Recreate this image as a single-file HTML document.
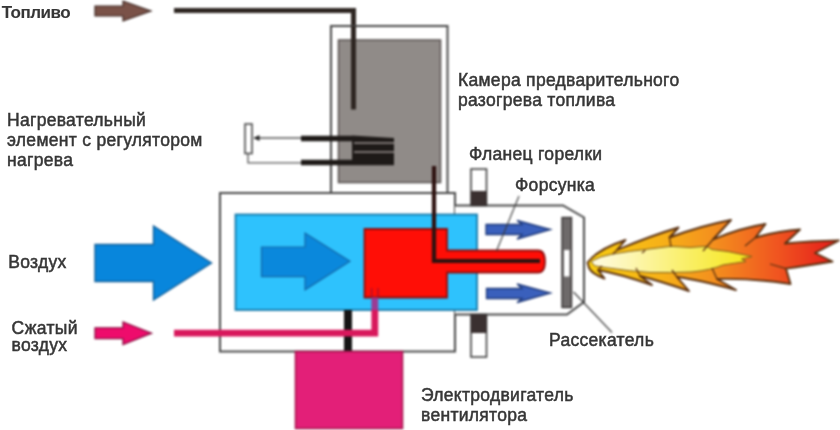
<!DOCTYPE html>
<html><head><meta charset="utf-8">
<style>
html,body{margin:0;padding:0;background:#fff;width:840px;height:430px;overflow:hidden}
svg{position:absolute;left:0;top:0;filter:blur(0.8px)}
svg.t{filter:blur(0.45px)}
text{font-family:"Liberation Sans",sans-serif;font-size:17.5px;fill:#363636;letter-spacing:0.3px;stroke:#363636;stroke-width:0.5px}
</style></head><body>
<svg width="840" height="430" viewBox="0 0 840 430">
<defs>
<linearGradient id="fl" x1="588" y1="0" x2="839" y2="0" gradientUnits="userSpaceOnUse">
<stop offset="0" stop-color="#f8cc10"/>
<stop offset="0.3" stop-color="#f7b018"/>
<stop offset="0.5" stop-color="#f4901e"/>
<stop offset="0.75" stop-color="#f05620"/>
<stop offset="1" stop-color="#e41a1a"/>
</linearGradient>
<linearGradient id="core" x1="592" y1="0" x2="752" y2="0" gradientUnits="userSpaceOnUse">
<stop offset="0" stop-color="#fffbe0"/>
<stop offset="0.25" stop-color="#fdf6b0"/>
<stop offset="0.55" stop-color="#faf070"/>
<stop offset="1" stop-color="#f6e618"/>
</linearGradient>
</defs>

<!-- fuel arrow -->
<path d="M95 6 H123 V1 L151 11 L123 21 V16 H95 Z" fill="#7a5248" stroke="#3a2520" stroke-width="1.2"/>
<!-- fuel pipe -->
<path d="M174 10.5 H353.5 V109.5" fill="none" stroke="#2e2622" stroke-width="5"/>

<!-- chamber outer -->
<rect x="331" y="26" width="116.5" height="167" fill="#fff" stroke="#484848" stroke-width="2"/>
<!-- grey inner -->
<rect x="338.5" y="40" width="102" height="142.5" fill="#908b88" stroke="#5c5654" stroke-width="1.6"/>
<!-- fuel pipe inside chamber -->
<path d="M353.5 26 V109.5" fill="none" stroke="#2e2622" stroke-width="5"/>

<!-- heater -->
<rect x="245" y="124" width="7" height="29.5" fill="#fff" stroke="#4a4a4a" stroke-width="1.6"/>
<path d="M254 138 H301" stroke="#555" stroke-width="1.3" fill="none"/>
<path d="M253.5 138 l6 -3 v6 z" fill="#222"/>
<path d="M248 154 V162.8 H301" stroke="#555" stroke-width="1.3" fill="none"/>
<path d="M301 138.5 H352" stroke="#1e1a18" stroke-width="5.5"/>
<path d="M301 162.5 H394" stroke="#1e1a18" stroke-width="5.5"/>
<path d="M352 135.5 L394 138 V165 H352 Z" fill="#1e1a18"/>
<path d="M354 143 H394" stroke="#7a7472" stroke-width="2"/>
<path d="M354 152 H394" stroke="#7a7472" stroke-width="2"/>

<!-- main body -->
<rect x="220" y="193" width="235" height="158.5" fill="#fff" stroke="#484848" stroke-width="2"/>
<!-- nozzle housing -->
<path d="M455 205.5 H563 L584 217.5 V302 L567 314.5 H455" fill="#fff" stroke="#484848" stroke-width="2"/>
<!-- blue box -->
<rect x="235.5" y="214.5" width="241.5" height="95.5" fill="#2ec2fd" stroke="#1478a8" stroke-width="1.8"/>
<!-- inner blue arrow -->
<path d="M261.5 247 H305 V233 L350 261.3 L305 289.8 V276.7 H261.5 Z" fill="#0a88dc" stroke="#1468a8" stroke-width="1.2"/>

<!-- red box -->
<path d="M364.5 229 H447 V250.5 H538 Q545 250.5 545 261.5 Q545 272.5 538 272.5 H447 V297.5 H364.5 Z" fill="#ff0e06" stroke="#8e0e0e" stroke-width="1.8"/>
<!-- fuel pipe into red -->
<path d="M434 166 V261 H540" fill="none" stroke="#2e1210" stroke-width="4.2"/>

<!-- shaft -->
<rect x="344" y="310" width="8" height="41.5" fill="#151515"/>
<!-- pink air line -->
<path d="M174 333.2 H374.8 V310" fill="none" stroke="#d8185c" stroke-width="6.8"/>
<rect x="371.4" y="297.5" width="6.8" height="12.5" fill="#9a3c94"/>
<path d="M371.6 288 V297.5 M378 288 V297.5" stroke="#a01030" stroke-width="1.2" fill="none"/>
<!-- motor -->
<rect x="295.5" y="351.5" width="107" height="77" fill="#e31f78" stroke="#a8164e" stroke-width="1.6"/>

<!-- flanges -->
<rect x="471" y="169" width="15.5" height="36.5" fill="#fff" stroke="#333" stroke-width="1.5"/>
<rect x="471" y="191" width="15.5" height="14.5" fill="#3a3030"/>
<rect x="471" y="314.5" width="15.5" height="42.5" fill="#fff" stroke="#333" stroke-width="1.5"/>
<rect x="471" y="314.5" width="15.5" height="18.5" fill="#3a3030"/>

<!-- small blue arrows -->
<path d="M486 224.5 H522 L517 220.5 L550.5 229.5 L517 239 L522 234.5 H486 Z" fill="#3a60bc" stroke="#1e3878" stroke-width="1.3"/>
<path d="M486.5 288.5 H522 L517 284 L550.5 293 L517 302.5 L522 298.5 H486.5 Z" fill="#3a60bc" stroke="#1e3878" stroke-width="1.3"/>

<!-- disperser -->
<rect x="562" y="217.5" width="9.5" height="90" fill="#6e6a6a" stroke="#2e2a2a" stroke-width="1.3"/>
<rect x="564" y="250" width="5.5" height="26.5" fill="#fff"/>

<!-- leader lines -->
<path d="M519 196 L496.5 251" stroke="#3a3a3a" stroke-width="1.1" fill="none"/>
<path d="M573.5 292 L612 332.5" stroke="#3a3a3a" stroke-width="1.1" fill="none"/>

<!-- big blue arrow -->
<path d="M95 244.5 H153.5 V226 L211.5 263 L153.5 300 V281.5 H95 Z" fill="#0886dc" stroke="#13609a" stroke-width="1.4"/>
<!-- pink arrow -->
<path d="M95 327.8 H123 V322 L151.5 333.2 L123 344.5 V338.7 H95 Z" fill="#ee0c6c" stroke="#8a0c40" stroke-width="1.3"/>

<!-- flame -->
<path d="M587.5 262.5 Q598 249 625.5 240 L617 250 Q650 236 678.5 227.5 L669.5 237.5 Q700 226 731 220 L713 239.5 Q740 228 765.5 224 L755.5 237.5 Q778 231 800 229.5 L785 243.5 Q810 241 839 240.5 L815 253 L832.5 261.5 Q805 266 786 268.6 L790.5 284 Q750 278 717 279 L736 290 Q700 280 677 277 L689 291 Q660 281 640 276 L652 285 Q620 274 598 270 L604.5 278.5 Q592 274 589 268 Z" fill="url(#fl)" stroke="#5a3010" stroke-width="1.9" stroke-linejoin="round"/>
<path d="M591 261.5 Q600 256 612.7 254 Q630 251 645.3 249.5 L665 247 L671 246.3 L690 247.5 L706.5 246.3 L712 249.5 L728 251.5 L752 256.5 L741.6 259 L746 261.5 L723 265 Q712 270 692 272 Q670 273 650 272.5 Q628 271 612 268.5 Q600 267 594.5 265.7 Z" fill="url(#core)" stroke="#7a5a18" stroke-width="1" stroke-linejoin="round"/>
<path d="M612.7 254.3 L617 250 M645.3 250.2 L642 253 M669.5 237.5 L671 246.8 M713 239.5 L703 251 M755.5 237.5 L745 246 M786 268.6 L770 264 M717 279 L712 268 M677 277 L672 270 M640 276 L636 268 M598 270 L602 266" stroke="#5e3210" stroke-width="1.3" fill="none"/>
</svg>
<svg class="t" width="840" height="430" viewBox="0 0 840 430">
<!-- text -->
<text x="1.8" y="18.3" style="font-weight:bold;font-size:17px;letter-spacing:-0.5px;stroke-width:0.1px">Топливо</text>
<text x="7" y="126">Нагревательный</text>
<text x="7" y="146">элемент с регулятором</text>
<text x="7" y="166">нагрева</text>
<text x="458" y="85.5">Камера предварительного</text>
<text x="458" y="105.5">разогрева топлива</text>
<text x="469" y="159.5">Фланец горелки</text>
<text x="515" y="191">Форсунка</text>
<text x="8.3" y="268">Воздух</text>
<text x="11.5" y="333.5">Сжатый</text>
<text x="11.5" y="350.5">воздух</text>
<text x="549" y="345.5">Рассекатель</text>
<text x="421" y="401">Электродвигатель</text>
<text x="421" y="421">вентилятора</text>
</svg>
</body></html>
